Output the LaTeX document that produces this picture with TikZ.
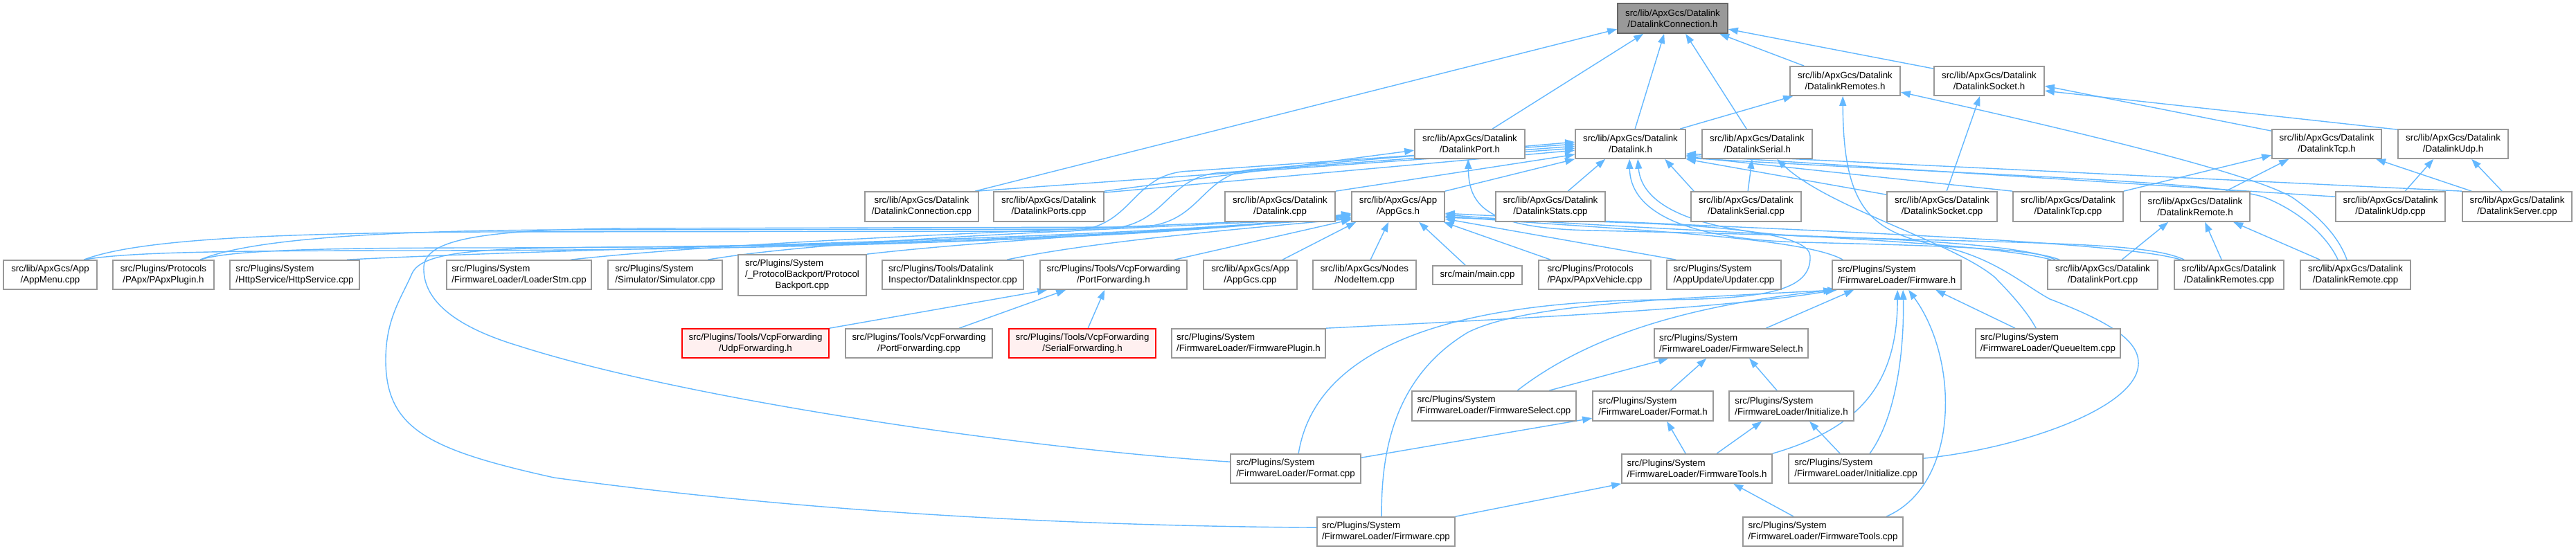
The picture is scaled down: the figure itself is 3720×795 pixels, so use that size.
\documentclass[tikz,border=0pt]{standalone}
\usepackage{fontspec}
\setmainfont{Liberation Sans}
\usetikzlibrary{arrows.meta}
\definecolor{edgecol}{HTML}{63B8FF}
\definecolor{boxborder}{HTML}{999999}
\definecolor{curfill}{HTML}{999999}
\definecolor{curborder}{HTML}{666666}
\definecolor{missfill}{HTML}{FFF0F0}
\definecolor{missborder}{HTML}{FF0000}
\newcommand\fs{\fontsize{13.3pt}{16pt}\selectfont}
\newcommand\bx[7][]{\node[box,#1,minimum width={(#5-#3)*1pt},minimum height={(#6-#4)*1pt}] (#2) at ({(#3+#5)/2},{(#4+#6)/2}) {#7};}
\newcommand\eB[2]{([xshift=#2pt]#1.south west)}
\newcommand\eT[2]{([xshift=#2pt]#1.north west)}
\newcommand\eL[2]{([yshift=-#2pt]#1.north west)}
\newcommand\eR[2]{([yshift=-#2pt]#1.north east)}
\pgfdeclarelayer{back}
\pgfdeclarelayer{bg}
\pgfsetlayers{back,bg,main}
\begin{document}
\begin{tikzpicture}[x=1pt,y=-1pt,
  box/.style={draw=boxborder,line width=1.7pt,fill=white,inner sep=0pt,font=\fs,text=black},
  ctr/.style={align=center}, lft/.style={align=left},
  cur/.style={fill=curfill,draw=curborder},
  miss/.style={fill=missfill,draw=missborder},
  e/.style={draw=edgecol,line width=1.4pt,{Triangle[length=14pt,width=10pt]}-}]
\begin{pgfonlayer}{back}
\fill[white] (0,0) rectangle (3720,795);
\end{pgfonlayer}
\useasboundingbox (0,0) rectangle (3720,795);
% row 1-3
\bx[cur,ctr]{dc}{2336}{5}{2495}{48}{src/lib/ApxGcs/Datalink\\/DatalinkConnection.h}
\bx[ctr]{drsh}{2585}{96}{2744}{138}{src/lib/ApxGcs/Datalink\\/DatalinkRemotes.h}
\bx[ctr]{dskh}{2793}{96}{2952}{138}{src/lib/ApxGcs/Datalink\\/DatalinkSocket.h}
\bx[ctr]{dph}{2043}{187}{2202}{229}{src/lib/ApxGcs/Datalink\\/DatalinkPort.h}
\bx[ctr]{dlh}{2275}{187}{2434}{229}{src/lib/ApxGcs/Datalink\\/Datalink.h}
\bx[ctr]{dsh}{2458}{187}{2617}{229}{src/lib/ApxGcs/Datalink\\/DatalinkSerial.h}
\bx[ctr]{dtcph}{3281}{187}{3439}{229}{src/lib/ApxGcs/Datalink\\/DatalinkTcp.h}
\bx[ctr]{dudph}{3463}{187}{3622}{229}{src/lib/ApxGcs/Datalink\\/DatalinkUdp.h}
% row 4
\bx[ctr]{dcc}{1249}{277}{1413}{320}{src/lib/ApxGcs/Datalink\\/DatalinkConnection.cpp}
\bx[ctr]{dpsc}{1435}{277}{1594}{320}{src/lib/ApxGcs/Datalink\\/DatalinkPorts.cpp}
\bx[ctr]{dlc}{1769}{277}{1928}{320}{src/lib/ApxGcs/Datalink\\/Datalink.cpp}
\bx[ctr]{apph}{1952}{277}{2086}{320}{src/lib/ApxGcs/App\\/AppGcs.h}
\bx[ctr]{dstc}{2160}{277}{2318}{320}{src/lib/ApxGcs/Datalink\\/DatalinkStats.cpp}
\bx[ctr]{dsc}{2442}{277}{2601}{320}{src/lib/ApxGcs/Datalink\\/DatalinkSerial.cpp}
\bx[ctr]{dskc}{2725}{277}{2884}{320}{src/lib/ApxGcs/Datalink\\/DatalinkSocket.cpp}
\bx[ctr]{dtcpc}{2907}{277}{3066}{320}{src/lib/ApxGcs/Datalink\\/DatalinkTcp.cpp}
\bx[ctr]{drh}{3091}{277}{3249}{320}{src/lib/ApxGcs/Datalink\\/DatalinkRemote.h}
\bx[ctr]{dudpc}{3373}{277}{3531}{320}{src/lib/ApxGcs/Datalink\\/DatalinkUdp.cpp}
\bx[ctr]{dsrvc}{3556}{277}{3714}{320}{src/lib/ApxGcs/Datalink\\/DatalinkServer.cpp}
% row 5
\bx[ctr]{appm}{5}{376}{140}{418}{src/lib/ApxGcs/App\\/AppMenu.cpp}
\bx[ctr]{papxp}{163}{376}{309}{418}{src/Plugins/Protocols\\/PApx/PApxPlugin.h}
\bx[lft]{http}{332}{376}{519}{418}{src/Plugins/System\\/HttpService/HttpService.cpp}
\bx[lft]{ldr}{645}{376}{854}{418}{src/Plugins/System\\/FirmwareLoader/LoaderStm.cpp}
\bx[lft]{sim}{878}{376}{1043}{418}{src/Plugins/System\\/Simulator/Simulator.cpp}
\bx{pbp}{1066}{368}{1251}{427}{\begin{tabular}{@{}l@{}}src/Plugins/System\\/\_ProtocolBackport/Protocol\\\multicolumn{1}{@{}c@{}}{Backport.cpp}\end{tabular}}
\bx[lft]{insp}{1274}{376}{1478}{418}{src/Plugins/Tools/Datalink\\Inspector/DatalinkInspector.cpp}
\bx[ctr]{pfh}{1502}{376}{1714}{418}{src/Plugins/Tools/VcpForwarding\\/PortForwarding.h}
\bx[ctr]{appc}{1738}{376}{1873}{418}{src/lib/ApxGcs/App\\/AppGcs.cpp}
\bx[ctr]{nodei}{1896}{376}{2045}{418}{src/lib/ApxGcs/Nodes\\/NodeItem.cpp}
\bx[ctr]{mainc}{2069}{384}{2198}{411}{src/main/main.cpp}
\bx[lft]{papxv}{2222}{376}{2384}{418}{src/Plugins/Protocols\\/PApx/PApxVehicle.cpp}
\bx[lft]{upd}{2407}{376}{2572}{418}{src/Plugins/System\\/AppUpdate/Updater.cpp}
\bx[lft]{fwh}{2646}{376}{2832}{418}{src/Plugins/System\\/FirmwareLoader/Firmware.h}
\bx[ctr]{dpc}{2957}{376}{3116}{418}{src/lib/ApxGcs/Datalink\\/DatalinkPort.cpp}
\bx[ctr]{drsc}{3140}{376}{3298}{418}{src/lib/ApxGcs/Datalink\\/DatalinkRemotes.cpp}
\bx[ctr]{drc}{3322}{376}{3481}{418}{src/lib/ApxGcs/Datalink\\/DatalinkRemote.cpp}
% row 6
\bx[miss,ctr]{udpf}{985}{475}{1197}{517}{src/Plugins/Tools/VcpForwarding\\/UdpForwarding.h}
\bx[ctr]{pfc}{1221}{475}{1433}{517}{src/Plugins/Tools/VcpForwarding\\/PortForwarding.cpp}
\bx[miss,ctr]{serf}{1457}{475}{1669}{517}{src/Plugins/Tools/VcpForwarding\\/SerialForwarding.h}
\bx[lft]{fwp}{1692}{475}{1914}{517}{src/Plugins/System\\/FirmwareLoader/FirmwarePlugin.h}
\bx[lft]{fsh}{2389}{475}{2611}{517}{src/Plugins/System\\/FirmwareLoader/FirmwareSelect.h}
\bx[lft]{qi}{2853}{475}{3062}{517}{src/Plugins/System\\/FirmwareLoader/QueueItem.cpp}
% row 7
\bx[lft]{fsc}{2039}{565}{2276}{608}{src/Plugins/System\\/FirmwareLoader/FirmwareSelect.cpp}
\bx[lft]{fmth}{2300}{565}{2474}{608}{src/Plugins/System\\/FirmwareLoader/Format.h}
\bx[lft]{inith}{2497}{565}{2677}{608}{src/Plugins/System\\/FirmwareLoader/Initialize.h}
% row 8
\bx[lft]{fmtc}{1777}{656}{1965}{698}{src/Plugins/System\\/FirmwareLoader/Format.cpp}
\bx[lft]{fth}{2342}{656}{2559}{698}{src/Plugins/System\\/FirmwareLoader/FirmwareTools.h}
\bx[lft]{initc}{2583}{656}{2777}{698}{src/Plugins/System\\/FirmwareLoader/Initialize.cpp}
% row 9
\bx[lft]{fwc}{1902}{747}{2101}{789}{src/Plugins/System\\/FirmwareLoader/Firmware.cpp}
\bx[lft]{ftc}{2517}{747}{2748}{789}{src/Plugins/System\\/FirmwareLoader/FirmwareTools.cpp}

\begin{pgfonlayer}{bg}
% DatalinkConnection.h
\draw[e] \eL{dc}{38} -- \eT{dcc}{160};
\draw[e] \eB{dc}{38} -- \eT{dph}{113};
\draw[e] \eB{dc}{68} -- \eT{dlh}{87};
\draw[e] \eB{dc}{99} -- \eT{dsh}{65};
\draw[e] \eB{dc}{148} -- \eT{drsh}{21};
\draw[e] \eR{dc}{38} -- \eL{dskh}{4};
% DatalinkRemotes.h
\draw[e] \eB{drsh}{5} -- \eT{dlh}{152};
\draw[e] \eB{drsh}{77} .. controls (2662,300) and (2700,335) .. (2800,355) .. controls (2880,372) and (2920,410) .. (2960,432) .. controls (3060,470) and (3100,500) .. (3085,540) .. controls (3060,600) and (2900,650) .. \eR{initc}{7};
\draw[e] \eR{drsh}{38} .. controls (3000,190) and (3250,250) .. (3310,285) .. controls (3360,320) and (3380,350) .. \eT{drc}{68};
% DatalinkSocket.h
\draw[e] \eB{dskh}{67} -- \eT{dskc}{87};
\draw[e] \eR{dskh}{29} -- \eL{dtcph}{3};
\draw[e] \eR{dskh}{36} -- \eL{dudph}{1};
% DatalinkTcp.h / Udp.h
\draw[e] \eL{dtcph}{38} -- (dtcpc.north east);
\draw[e] \eB{dtcph}{25} -- \eT{drh}{124};
\draw[e] \eB{dtcph}{151} -- \eT{dsrvc}{14};
\draw[e] \eB{dudph}{52} -- \eT{dudpc}{101};
\draw[e] \eB{dudph}{107} -- \eT{dsrvc}{58};
% DatalinkRemote.h
\draw[e] \eB{drh}{41} -- \eT{dpc}{108};
\draw[e] \eB{drh}{94} -- \eT{drsc}{69};
\draw[e] \eB{drh}{135} -- \eT{drc}{29};
% DatalinkSerial.h
\draw[e] \eB{dsh}{73} -- \eT{dsc}{83};
\draw[e] \eB{dsh}{109} .. controls (2640,300) and (2820,350) .. (2880,400) .. controls (2910,430) and (2930,455) .. \eT{qi}{88};
% DatalinkPort.h
\draw[e] \eL{dph}{31} -- (dpsc.north east);
\draw[e] \eB{dph}{78} .. controls (2121,300) and (2150,330) .. (2300,333) .. controls (2600,340) and (2900,345) .. \eT{dpc}{12};
% Datalink.h
\draw[e] \eL{dlh}{28} -- \eT{dcc}{162};
\draw[e] \eL{dlh}{31} -- ([yshift=-2pt]dpsc.north east);
\draw[e] \eL{dlh}{37} -- (dlc.north east);
\draw[e] (dlh.south west) -- (apph.north east);
\draw[e] \eB{dlh}{44} -- \eT{dstc}{105};
\draw[e] \eB{dlh}{130} -- \eT{dsc}{5};
\draw[e] (dlh.south east) -- \eL{dskc}{5};
\draw[e] \eR{dlh}{40} -- (dtcpc.north west);
\draw[e] \eR{dlh}{38} -- \eL{dudpc}{8};
\draw[e] \eR{dlh}{36} -- (dsrvc.north west);
\draw[e] \eR{dlh}{42} .. controls (2900,255) and (3200,262) .. (3270,285) .. controls (3320,305) and (3360,340) .. \eT{drc}{55};
\draw[e] \eB{dlh}{79} .. controls (2354,300) and (2420,345) .. (2600,350) .. controls (2800,355) and (2930,358) .. \eT{dpc}{18};
\draw[e] \eB{dlh}{91} .. controls (2370,290) and (2430,335) .. (2620,342) .. controls (2950,352) and (3100,350) .. \eT{drsc}{15};
\draw[e] \eL{dlh}{22} -- (1720,247) .. controls (1630,249) and (1640,333) .. (1540,334) -- (700,335) .. controls (400,337) and (200,345) .. \eT{appm}{117};
\draw[e] \eL{dlh}{25} -- (1770,249) .. controls (1680,251) and (1690,330) .. (1590,331) -- (800,332) .. controls (500,334) and (350,350) .. \eT{papxp}{127};
\draw[e] \eL{dlh}{19} -- (1820,244) .. controls (1730,246) and (1740,327) .. (1640,328) -- (900,330) .. controls (700,332) and (615,345) .. (612,385) .. controls (610,430) and (650,470) .. (750,500) .. controls (1000,580) and (1500,650) .. \eL{fmtc}{12};
% AppGcs.h left side
\draw[e] \eL{apph}{33} .. controls (1600,352) and (1000,362) .. (600,362) .. controls (300,362) and (180,365) .. \eT{appm}{117};
\draw[e] \eL{apph}{34} .. controls (1600,350) and (1000,358) .. (700,358) .. controls (450,358) and (330,362) .. \eT{papxp}{127};
\draw[e] \eL{apph}{35} .. controls (1600,348) and (900,355) .. \eT{http}{170};
\draw[e] \eL{apph}{37} .. controls (1600,330) and (1100,345) .. \eT{ldr}{180};
\draw[e] \eL{apph}{38} .. controls (1600,332) and (1200,345) .. \eT{sim}{145};
\draw[e] \eL{apph}{39} .. controls (1650,335) and (1400,350) .. (pbp.north east);
\draw[e] \eL{apph}{40} .. controls (1700,338) and (1550,355) .. \eT{insp}{181};
\draw[e] \eL{apph}{41} -- \eT{pfh}{195};
\draw[e] \eL{apph}{32} .. controls (1700,345) and (1200,356) .. (900,357) .. controls (700,358) and (610,362) .. (595,395) .. controls (580,430) and (557,460) .. (557,520) .. controls (557,620) and (620,650) .. (800,690) .. controls (1200,745) and (1600,760) .. \eL{fwc}{16};
% AppGcs.h other
\draw[e] \eB{apph}{7} -- \eT{appc}{115};
\draw[e] \eB{apph}{54} -- \eT{nodei}{84};
\draw[e] \eB{apph}{98} -- \eT{mainc}{48};
\draw[e] ([xshift=-2pt]apph.south east) -- \eT{papxv}{18};
\draw[e] \eR{apph}{40} -- \eT{upd}{14};
\draw[e] \eR{apph}{36} .. controls (2300,330) and (2600,340) .. \eT{fwh}{16};
\draw[e] \eR{apph}{34} .. controls (2400,335) and (2850,345) .. \eT{dpc}{6};
\draw[e] \eR{apph}{32} .. controls (2500,330) and (3050,345) .. \eT{drsc}{10};
\draw[e] \eR{apph}{38} .. controls (2300,322) and (2612,318) .. (2614,370) .. controls (2616,420) and (2550,432) .. (2400,433) .. controls (2100,435) and (1900,500) .. \eT{fmtc}{99};
% PortForwarding.h
\draw[e] \eB{pfh}{11} -- (udpf.north east);
\draw[e] \eB{pfh}{38} -- \eT{pfc}{165};
\draw[e] \eB{pfh}{94} -- \eT{serf}{115};
% Firmware.h
\draw[e] \eB{fwh}{5} .. controls (2500,445) and (2200,460) .. (fwp.north east);
\draw[e] \eB{fwh}{32} -- \eT{fsh}{162};
\draw[e] \eB{fwh}{2} .. controls (2450,440) and (2300,480) .. \eT{fsc}{153};
\draw[e] \eB{fwh}{8} .. controls (2400,432) and (2200,440) .. (2120,480) .. controls (2020,540) and (1994,640) .. \eT{fwc}{94};
\draw[e] \eB{fwh}{95} .. controls (2740,560) and (2680,620) .. (fth.north east);
\draw[e] \eB{fwh}{103} .. controls (2750,500) and (2740,600) .. \eT{initc}{118};
\draw[e] \eB{fwh}{111} .. controls (2830,520) and (2830,700) .. \eT{ftc}{208};
\draw[e] \eB{fwh}{150} -- \eT{qi}{58};
% FirmwareLoader internals
\draw[e] \eB{fsh}{21} -- \eT{fsc}{199};
\draw[e] \eB{fsh}{76} -- \eT{fmth}{113};
\draw[e] \eB{fsh}{138} -- \eT{inith}{70};
\draw[e] \eB{fmth}{108} -- \eT{fth}{93};
\draw[e] \eL{fmth}{40} -- \eR{fmtc}{6};
\draw[e] \eB{inith}{48} -- \eT{fth}{138};
\draw[e] \eB{inith}{117} -- \eT{initc}{75};
\draw[e] \eB{fth}{162} -- \eT{ftc}{74};
\draw[e] (fth.south west) -- (fwc.north east);
\end{pgfonlayer}
\end{tikzpicture}
\end{document}
